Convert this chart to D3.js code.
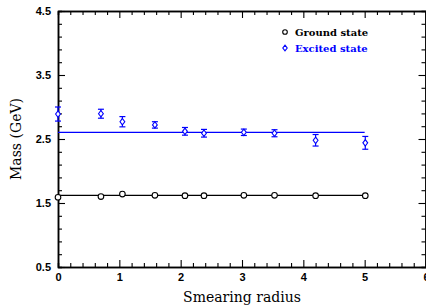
<!DOCTYPE html>
<html>
<head>
<meta charset="utf-8">
<script src="https://cdn.jsdelivr.net/npm/d3@7"></script>
<style>
  body { margin: 0; background: #fff; }
  svg { display: block; }
</style>
</head>
<body>
<svg></svg>
<script>
// smearing radii used for both states
let radius = [0, 0.70, 1.05, 1.58, 2.07, 2.38, 3.03, 3.53, 4.20, 5.01];

// ground state masses (errors too small to see)
let groundMass = [1.59, 1.60, 1.64, 1.62, 1.615, 1.615, 1.62, 1.62, 1.615, 1.615];
let groundFit = 1.62;

// excited state masses and their errors
let excitedMass = [2.89, 2.895, 2.77, 2.72, 2.62, 2.59, 2.605, 2.59, 2.48, 2.44];
let excitedErr = [0.11, 0.07, 0.08, 0.05, 0.06, 0.06, 0.05, 0.055, 0.09, 0.10];
let excitedFit = 2.605;

let xTicks = [0, 1, 2, 3, 4, 5, 6];
let yTicks = [0.5, 1.5, 2.5, 3.5, 4.5];
let legendLabels = ["Ground state", "Excited state"];

let width = 426;
let height = 307;
let plotLeft = 58, plotRight = 426, plotTop = 11, plotBottom = 267;

let svg = d3.select("svg").attr("width", width).attr("height", height);

let xScale = d3.scaleLinear().domain([0, 6]).range([plotLeft, plotRight]);
let yScale = d3.scaleLinear().domain([0.5, 4.5]).range([plotBottom, plotTop]);

let blue = "#0000ff";

// minor ticks every 0.2
let xMinor = d3.range(0, 6.001, 0.2).filter(v => Math.abs(v - Math.round(v)) > 0.01);
let yMinor = d3.range(0.5, 4.501, 0.2).filter(v => Math.abs((v - 0.5) - Math.round(v - 0.5)) > 0.01);

const drawAxes = () => {
  // bottom
  let xb = svg.append("g").attr("transform", `translate(0, ${plotBottom})`)
    .call(d3.axisBottom(xScale).tickValues(xTicks).tickSizeInner(-7).tickSizeOuter(0).tickPadding(4)
      .tickFormat(d3.format("d")));
  xb.selectAll(".tick text").attr("dy", "0.9em");
  svg.append("g").attr("transform", `translate(0, ${plotBottom})`)
    .call(d3.axisBottom(xScale).tickValues(xMinor).tickSize(-4).tickFormat(""));

  // top
  svg.append("g").attr("transform", `translate(0, ${plotTop})`)
    .call(d3.axisTop(xScale).tickValues(xTicks).tickSizeInner(-7).tickSizeOuter(0).tickFormat(""));
  svg.append("g").attr("transform", `translate(0, ${plotTop})`)
    .call(d3.axisTop(xScale).tickValues(xMinor).tickSize(-4).tickFormat(""));

  // left
  svg.append("g").attr("transform", `translate(${plotLeft}, 0)`)
    .call(d3.axisLeft(yScale).tickValues(yTicks).tickSizeInner(-7).tickSizeOuter(0).tickPadding(7)
      .tickFormat(d3.format(".1f")));
  svg.append("g").attr("transform", `translate(${plotLeft}, 0)`)
    .call(d3.axisLeft(yScale).tickValues(yMinor).tickSize(-4).tickFormat(""));

  // right
  svg.append("g").attr("transform", `translate(${plotRight - 0.5}, 0)`)
    .call(d3.axisRight(yScale).tickValues(yTicks).tickSizeInner(-7).tickSizeOuter(0).tickFormat(""));
  svg.append("g").attr("transform", `translate(${plotRight - 0.5}, 0)`)
    .call(d3.axisRight(yScale).tickValues(yMinor).tickSize(-4).tickFormat(""));

  svg.selectAll(".domain").attr("stroke", "#000").attr("stroke-width", 1.5);
  svg.selectAll(".tick line").attr("stroke", "#000").attr("stroke-width", 1.1);
  svg.selectAll(".tick text")
    .attr("font-family", "Liberation Sans, Arial, sans-serif")
    .attr("font-weight", "bold")
    .attr("font-size", 11)
    .attr("fill", "#000");

  // labels
  svg.append("text")
    .attr("x", (plotLeft + plotRight) / 2)
    .attr("y", 302)
    .attr("text-anchor", "middle")
    .attr("font-family", "DejaVu Serif, serif")
    .attr("font-size", 14)
    .text("Smearing radius");

  svg.append("text")
    .attr("transform", `translate(21, ${(plotTop + plotBottom) / 2}) rotate(-90)`)
    .attr("text-anchor", "middle")
    .attr("font-family", "DejaVu Serif, serif")
    .attr("font-size", 14)
    .text("Mass (GeV)");
}

const drawData = () => {
  // fit lines
  svg.append("line")
    .attr("x1", xScale(0)).attr("x2", xScale(5))
    .attr("y1", yScale(groundFit)).attr("y2", yScale(groundFit))
    .attr("stroke", "#000").attr("stroke-width", 1.3);
  svg.append("line")
    .attr("x1", xScale(0)).attr("x2", xScale(5))
    .attr("y1", yScale(excitedFit)).attr("y2", yScale(excitedFit))
    .attr("stroke", blue).attr("stroke-width", 1.3);

  // ground state circles
  svg.selectAll("circle.ground")
    .data(radius)
    .enter()
    .append("circle")
    .attr("class", "ground")
    .attr("cx", d => xScale(d))
    .attr("cy", (d, i) => yScale(groundMass[i]))
    .attr("r", 2.8)
    .attr("fill", "#fff")
    .attr("stroke", "#000")
    .attr("stroke-width", 1.1);

  // excited state error bars
  let eb = svg.selectAll("g.err")
    .data(radius)
    .enter()
    .append("g")
    .attr("class", "err")
    .attr("stroke", blue)
    .attr("stroke-width", 1.2);
  eb.append("line")
    .attr("x1", d => xScale(d)).attr("x2", d => xScale(d))
    .attr("y1", (d, i) => yScale(excitedMass[i] + excitedErr[i]))
    .attr("y2", (d, i) => yScale(excitedMass[i] - excitedErr[i]));
  eb.append("line")
    .attr("x1", d => xScale(d) - 3).attr("x2", d => xScale(d) + 3)
    .attr("y1", (d, i) => yScale(excitedMass[i] + excitedErr[i]))
    .attr("y2", (d, i) => yScale(excitedMass[i] + excitedErr[i]));
  eb.append("line")
    .attr("x1", d => xScale(d) - 3).attr("x2", d => xScale(d) + 3)
    .attr("y1", (d, i) => yScale(excitedMass[i] - excitedErr[i]))
    .attr("y2", (d, i) => yScale(excitedMass[i] - excitedErr[i]));

  // excited state diamonds
  svg.selectAll("path.excited")
    .data(radius)
    .enter()
    .append("path")
    .attr("class", "excited")
    .attr("transform", (d, i) => `translate(${xScale(d)}, ${yScale(excitedMass[i])})`)
    .attr("d", "M0,-3.2L2.4,0L0,3.2L-2.4,0Z")
    .attr("fill", "#fff")
    .attr("stroke", blue)
    .attr("stroke-width", 1.1);
}

const drawLegend = () => {
  let g = svg.append("g");
  g.append("circle")
    .attr("cx", 285).attr("cy", 32)
    .attr("r", 2.3)
    .attr("fill", "none").attr("stroke", "#000").attr("stroke-width", 1.1);
  g.append("path")
    .attr("transform", "translate(285, 48)")
    .attr("d", "M0,-2.8L2.2,0L0,2.8L-2.2,0Z")
    .attr("fill", "none").attr("stroke", blue).attr("stroke-width", 1.1);
  g.selectAll("text")
    .data(legendLabels)
    .enter()
    .append("text")
    .attr("x", 295)
    .attr("y", (d, i) => 36 + i * 16)
    .attr("font-family", "DejaVu Serif, serif")
    .attr("font-weight", "bold")
    .attr("font-size", 10)
    .attr("fill", (d, i) => i === 0 ? "#000" : blue)
    .text(d => d);
}

drawAxes();
drawData();
drawLegend();
</script>
</body>
</html>
